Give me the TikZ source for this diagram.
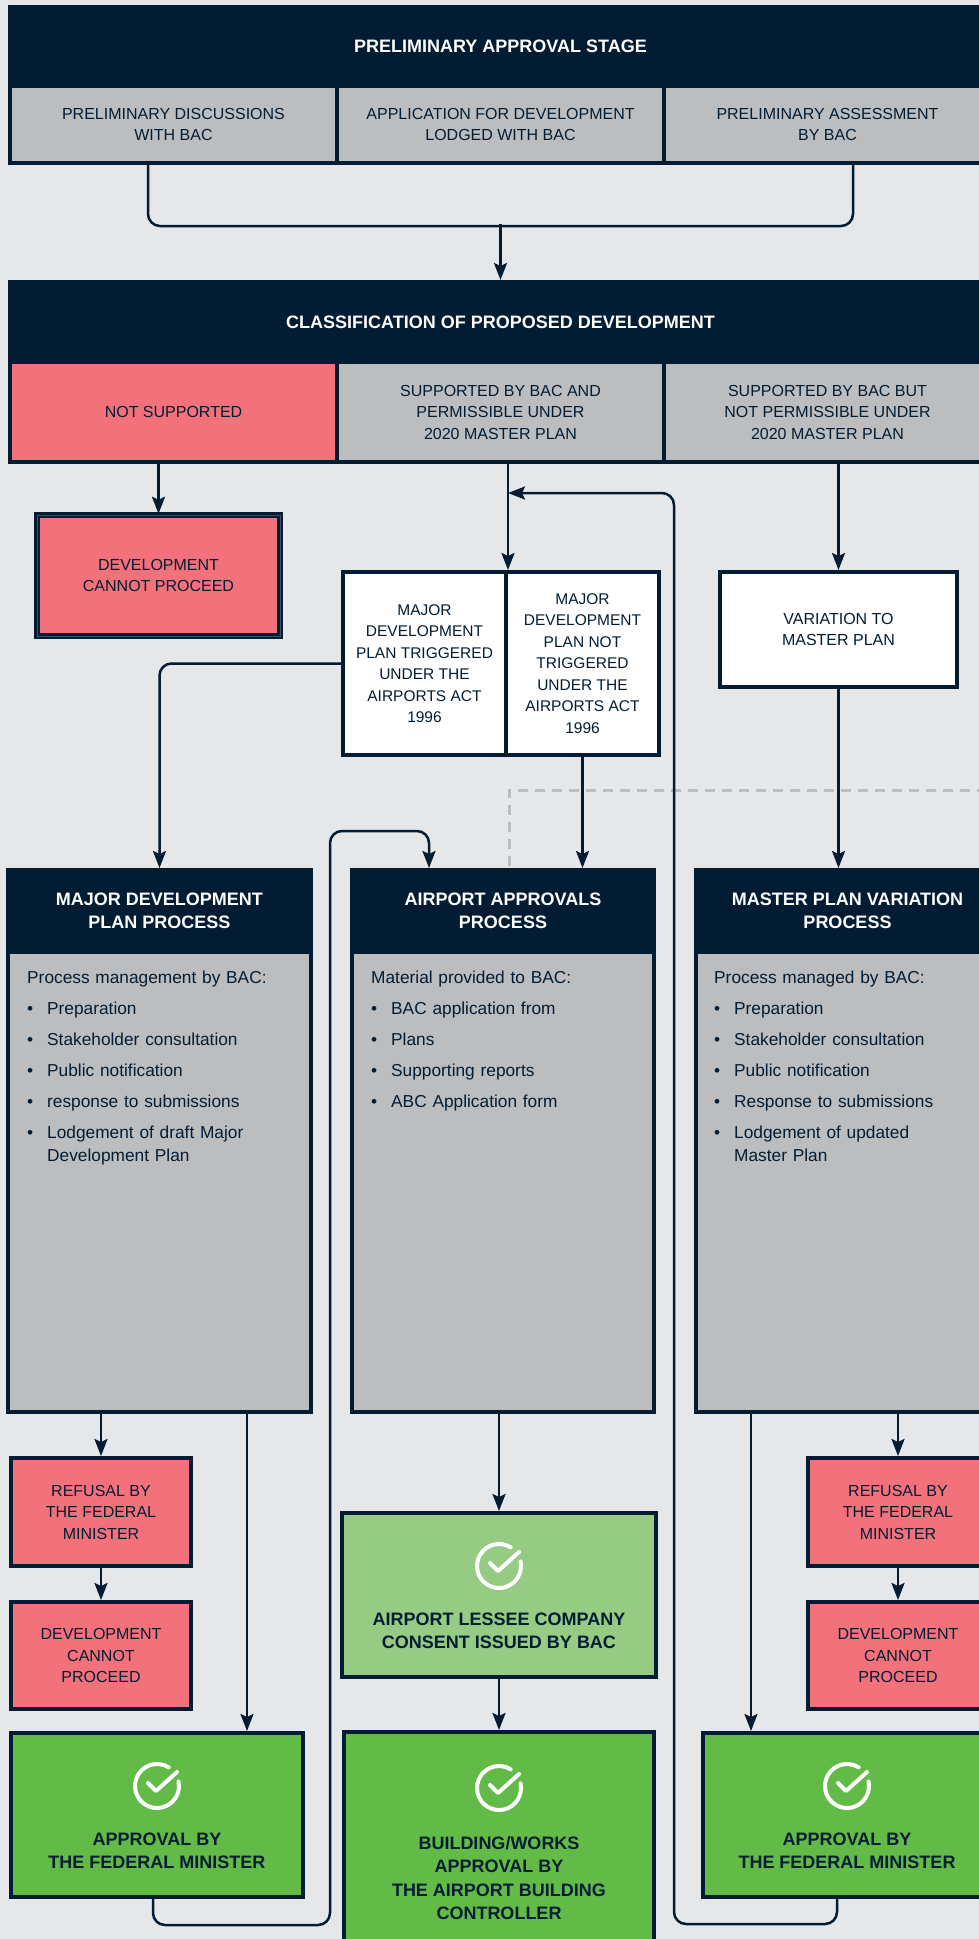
\documentclass[tikz,border=0pt]{standalone}
\usepackage{fontspec}
\setmainfont{Liberation Sans}
\usetikzlibrary{arrows.meta}

\definecolor{navy}{HTML}{021D33}
\definecolor{paper}{HTML}{E6E7E9}
\definecolor{stone}{HTML}{BCBDBF}
\definecolor{rose}{HTML}{F2717B}
\definecolor{sage}{HTML}{95CB82}
\definecolor{leaf}{HTML}{62BA47}
\definecolor{slate}{HTML}{3C5064}

\newcommand{\capsf}{\fontsize{16}{21.5}\selectfont}
\newcommand{\trigf}{\fontsize{15.5}{21.5}\selectfont}
\newcommand{\boldf}{\bfseries\fontsize{18}{23.5}\selectfont}
\newcommand{\listf}{\fontsize{17.3}{23}\selectfont}
\newcommand{\bul}[1]{\par\noindent\makebox[20pt][l]{\textbullet}\parbox[t]{240pt}{\raggedright #1}}

\tikzset{
  okmark/.pic={
    \draw[white, line width=4pt, line cap=round] (-58:22) arc[start angle=-58, end angle=-372, radius=22];
    \draw[white, line width=4pt, line cap=round, line join=round] (-9,-3) -- (-1,5) -- (20,-14);
  }
}

\begin{document}
\begin{tikzpicture}
  [x=1pt,y=-1pt,
   bar/.style={fill=navy,draw=navy,line width=4pt,text=white,font=\boldf,align=center,inner sep=0pt},
   cell/.style={fill=stone,draw=navy,line width=4pt,text=navy,font=\capsf,align=center,inner sep=0pt},
   nogo/.style={cell,fill=rose},
   whitecell/.style={cell,fill=white},
   okbox/.style={cell,fill=leaf},
   oktext/.style={text=navy,font=\boldf,align=center,inner sep=0pt},
   listtext/.style={anchor=north west,text=navy,font=\listf,align=left,inner sep=0pt},
   wire/.style={draw=navy,line width=2.5pt,rounded corners=12pt},
   arr/.style={wire,-{Stealth[length=17pt,width=13pt,inset=3pt]}},
   dashline/.style={draw=stone,line width=3pt,dash pattern=on 10pt off 7pt}]
  \clip (0,0) rectangle (979,1939);
  \fill[paper] (0,0) rectangle (979,1939);

  % preliminary stage
  \node[bar,minimum width=981pt,minimum height=79pt] (stageA) at (500.5,46.5) {PRELIMINARY APPROVAL STAGE};
  \node[cell,minimum width=327pt,minimum height=77pt] (talk) at (173.5,124.5) {PRELIMINARY DISCUSSIONS\\WITH BAC};
  \node[cell,minimum width=327pt,minimum height=77pt] (lodge) at (500.5,124.5) {APPLICATION FOR DEVELOPMENT\\LODGED WITH BAC};
  \node[cell,minimum width=327pt,minimum height=77pt] (assess) at (827.5,124.5) {PRELIMINARY ASSESSMENT\\BY BAC};

  % classification
  \node[bar,minimum width=981pt,minimum height=80pt] (stageB) at (500.5,322) {CLASSIFICATION OF PROPOSED DEVELOPMENT};
  \node[nogo,minimum width=327pt,minimum height=100pt] (nosup) at (173.5,412) {NOT SUPPORTED};
  \node[cell,minimum width=327pt,minimum height=100pt] (supok) at (500.5,412) {SUPPORTED BY BAC AND\\PERMISSIBLE UNDER\\2020 MASTER PLAN};
  \node[cell,minimum width=327pt,minimum height=100pt] (supno) at (827.5,412) {SUPPORTED BY BAC BUT\\NOT PERMISSIBLE UNDER\\2020 MASTER PLAN};

  \node[nogo,line width=2.5pt,double=slate,double distance=1pt,minimum width=243pt,minimum height=121pt] (halt) at (158.5,575.5) {DEVELOPMENT\\CANNOT PROCEED};
  \node[whitecell,font=\trigf,minimum width=163pt,minimum height=183pt] (trig) at (424.5,663.5) {MAJOR\\DEVELOPMENT\\PLAN TRIGGERED\\UNDER THE\\AIRPORTS ACT\\1996};
  \node[whitecell,font=\trigf,minimum width=153pt,minimum height=183pt] (notrig) at (582.5,663.5) {MAJOR\\DEVELOPMENT\\PLAN NOT\\TRIGGERED\\UNDER THE\\AIRPORTS ACT\\1996};
  \node[whitecell,minimum width=237pt,minimum height=115pt] (vary) at (838.5,629.5) {VARIATION TO\\MASTER PLAN};

  % processes
  \node[cell,minimum width=303pt,minimum height=460pt] (mdpB) at (159.5,1182) {};
  \node[cell,minimum width=302pt,minimum height=460pt] (aaB) at (503,1182) {};
  \node[cell,minimum width=303pt,minimum height=460pt] (mpvB) at (847.5,1182) {};
  \node[bar,minimum width=303pt,minimum height=82pt] (mdpH) at (159.5,911) {MAJOR DEVELOPMENT\\PLAN PROCESS};
  \node[bar,minimum width=302pt,minimum height=82pt] (aaH) at (503,911) {AIRPORT APPROVALS\\PROCESS};
  \node[bar,minimum width=303pt,minimum height=82pt] (mpvH) at (847.5,911) {MASTER PLAN VARIATION\\PROCESS};

  \coordinate (edge) at (995,790);
  \draw[dashline] ([xshift=6pt,yshift=2pt]aaH.north) |- (edge);

  \node[listtext,text width=270pt] (mdpL) at (27,971) {\setlength{\parskip}{8pt}Process management by BAC:%
    \bul{Preparation}\bul{Stakeholder consultation}\bul{Public notification}%
    \bul{response to submissions}\bul{Lodgement of draft Major\\Development Plan}};
  \node[listtext,text width=270pt] (aaL) at (371,971) {\setlength{\parskip}{8pt}Material provided to BAC:%
    \bul{BAC application from}\bul{Plans}\bul{Supporting reports}\bul{ABC Application form}};
  \node[listtext,text width=260pt] (mpvL) at (714,971) {\setlength{\parskip}{8pt}Process managed by BAC:%
    \bul{Preparation}\bul{Stakeholder consultation}\bul{Public notification}%
    \bul{Response to submissions}\bul{Lodgement of updated\\Master Plan}};

  % outcomes
  \node[nogo,minimum width=180pt,minimum height=108pt] (refL) at (101,1512) {REFUSAL BY\\THE FEDERAL\\MINISTER};
  \node[nogo,minimum width=180pt,minimum height=107pt] (stopL) at (101,1655.5) {DEVELOPMENT\\CANNOT\\PROCEED};
  \node[nogo,minimum width=180pt,minimum height=108pt] (refR) at (898,1512) {REFUSAL BY\\THE FEDERAL\\MINISTER};
  \node[nogo,minimum width=180pt,minimum height=107pt] (stopR) at (898,1655.5) {DEVELOPMENT\\CANNOT\\PROCEED};
  \node[okbox,minimum width=292pt,minimum height=164pt] (okL) at (157,1815) {};
  \node[okbox,minimum width=288pt,minimum height=164pt] (okR) at (847,1815) {};
  \node[okbox,fill=sage,minimum width=314pt,minimum height=164pt] (lessee) at (499,1595) {};
  \node[okbox,minimum width=310pt,minimum height=236pt] (build) at (499,1850) {};

  \node[oktext] (okLt) at ([yshift=-120pt]okL.north) {APPROVAL BY\\THE FEDERAL MINISTER};
  \node[oktext] (okRt) at ([yshift=-120pt]okR.north) {APPROVAL BY\\THE FEDERAL MINISTER};
  \node[oktext] (lesseet) at ([yshift=-120pt]lessee.north) {AIRPORT LESSEE COMPANY\\CONSENT ISSUED BY BAC};
  \node[oktext] (buildt) at ([yshift=-148pt]build.north) {BUILDING/WORKS\\APPROVAL BY\\THE AIRPORT BUILDING\\CONTROLLER};
  \pic at ([yshift=-55pt]okL.north) {okmark};
  \pic at ([yshift=-55pt]okR.north) {okmark};
  \pic at ([yshift=-55pt]lessee.north) {okmark};
  \pic at ([yshift=-58pt]build.north) {okmark};

  % connectors
  \coordinate (merge) at (500.5,224);
  \coordinate (hop) at (330,831);
  \coordinate (back) at (674,493);
  \draw[wire] ([xshift=-25.5pt]talk.south) -- ++(0,61) -| ([xshift=25.5pt]assess.south);
  \draw[arr] (merge) -- (stageB.north);
  \draw[arr] (nosup.south -| halt.north) -- (halt.north);
  \draw[arr] (supok.south -| trig.north east) -- (trig.north east);
  \draw[arr] (supno.south -| vary.north) -- (vary.north);
  \draw[arr] (trig.west) -| (mdpH.north);
  \draw[arr] (notrig.south) -- (notrig.south |- aaH.north);
  \draw[arr] (vary.south) -- (vary.south |- mpvH.north);
  \draw[arr] (mdpB.south -| refL.north) -- (refL.north);
  \draw[arr] ([xshift=87.5pt]mdpB.south) -- ([xshift=87.5pt]mdpB.south |- okL.north);
  \draw[arr] (aaB.south -| lessee.north) -- (lessee.north);
  \draw[arr] ([xshift=-96.5pt]mpvB.south) -- ([xshift=-96.5pt]mpvB.south |- okR.north);
  \draw[arr] (mpvB.south -| refR.north) -- (refR.north);
  \foreach \from/\to in {refL/stopL,refR/stopR,lessee/build}
    \draw[arr] (\from) -- (\to);
  \draw[arr] ([xshift=-4pt]okL.south) -- ++(0,26) -| (hop) -| ([xshift=-74pt]aaH.north);
  \draw[arr] ([xshift=-10pt]okR.south) -- ++(0,25) -| (back) -- (back -| trig.north east);
\end{tikzpicture}
\end{document}
